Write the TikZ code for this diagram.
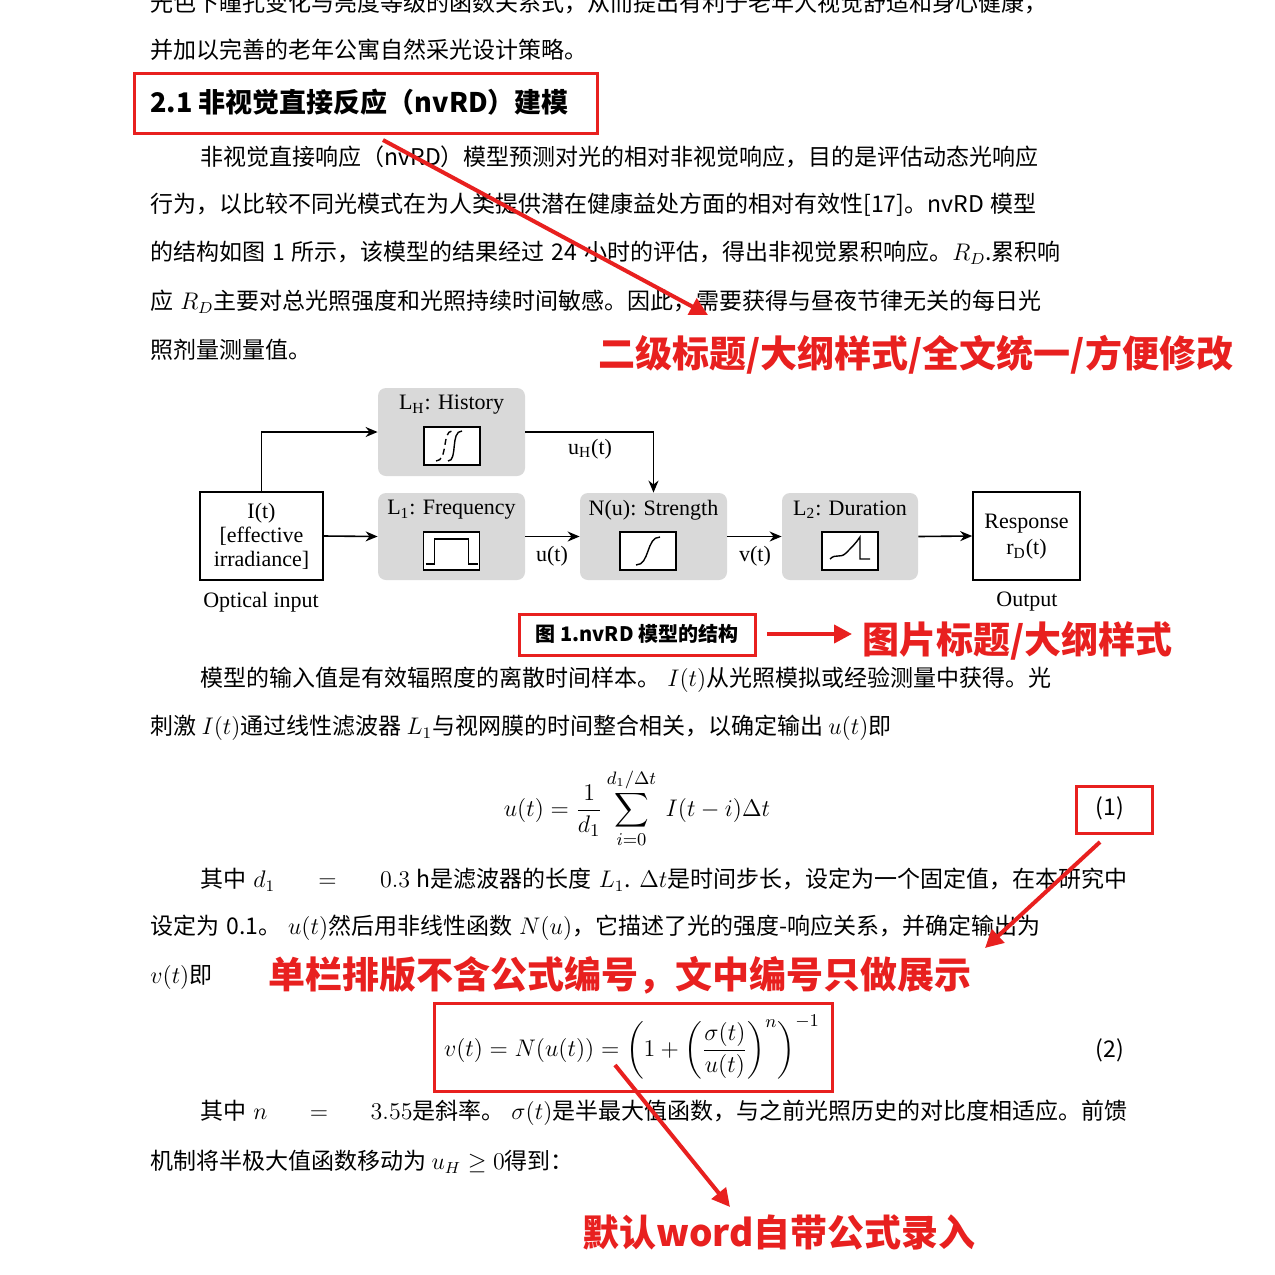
\documentclass[tikz,border=0pt]{standalone}
\usepackage{fontspec}
\usepackage{amsmath}
\setmainfont{Noto Sans CJK SC}
\newfontfamily\lser{Liberation Serif}
\usetikzlibrary{arrows.meta}
\XeTeXinterchartokenstate=1
\newcommand\cg{\hskip 0pt plus 2pt\relax}
\XeTeXinterchartoks 1 1 = {\cg}
\XeTeXinterchartoks 1 2 = {\cg}
\XeTeXinterchartoks 1 3 = {\cg}
\XeTeXinterchartoks 2 1 = {\cg}
\XeTeXinterchartoks 3 1 = {\cg}
\XeTeXinterchartoks 3 2 = {\cg}
\XeTeXinterchartoks 0 1 = {\cg}
\XeTeXinterchartoks 1 0 = {\cg}
\XeTeXinterchartoks 0 2 = {\cg}
\XeTeXinterchartoks 3 0 = {\cg}
\definecolor{annred}{HTML}{E8201F}
\definecolor{boxgray}{HTML}{D9D9D9}
\newcommand\fullln[1]{\hbox to 488pt{\spaceskip=0.3em\relax #1}}
\newcommand\indln[1]{\hbox to 463.5pt{\spaceskip=0.3em\relax #1}}
\begin{document}
\begin{tikzpicture}[x=0.5pt,y=-0.5pt,
  body/.style={anchor=west,inner sep=0pt,font=\fontsize{11.5}{13}\selectfont},
  ann/.style={anchor=west,inner sep=0pt,text=annred,font=\fontsize{18.5}{20}\selectfont\bfseries},
  redbox/.style={draw=annred,line width=1.5pt},
  redarr/.style={draw=annred,line width=2pt,-{Triangle[length=9pt,width=9pt]}},
  gbox/.style={fill=boxgray,rounded corners=4pt,inner sep=0pt},
  wbox/.style={draw,line width=0.8pt,fill=white,inner sep=0pt},
  icon/.style={draw,line width=0.8pt,fill=white,minimum width=28pt,minimum height=19pt,inner sep=0pt},
  lbl/.style={inner sep=0pt,font=\lser\fontsize{11}{13}\selectfont,align=center},
  arr/.style={line width=0.8pt,-{Stealth[length=6pt,width=5pt]}}]
\useasboundingbox (0,0) rectangle (1275,1275);
\clip (0,0) rectangle (1275,1275);
\fill[white] (0,0) rectangle (1275,1275);
% text top
\node[body] (t0) at (150,3) {\fullln{光色下瞳孔变化与亮度等级的函数关系式，从而提出有利于老年人视觉舒适和身心健康，}};
\node[body] (t1) at (150,50) {并加以完善的老年公寓自然采光设计策略。};
\node[body,font=\fontsize{13.5}{15}\selectfont\bfseries] (h) at (150,102) {2.1 非视觉直接反应（nvRD）建模};
\draw[redbox] (134,73) rectangle (597,133);
\node[body] (t2) at (200,157) {\indln{非视觉直接响应（nvRD）模型预测对光的相对非视觉响应，目的是评估动态光响应}};
\node[body] (t3) at (150,205) {\fullln{行为，以比较不同光模式在为人类提供潜在健康益处方面的相对有效性[17]。nvRD 模型}};
\node[body] (t4) at (150,253) {\fullln{的结构如图 1 所示，该模型的结果经过 24 小时的评估，得出非视觉累积响应。$R_D$.累积响}};
\node[body] (t5) at (150,302) {\fullln{应 $R_D$主要对总光照强度和光照持续时间敏感。因此，需要获得与昼夜节律无关的每日光}};
\node[body] (t6) at (150,350) {照剂量测量值。};
\coordinate (a1s) at (383,140); \coordinate (a1e) at (708,315);
\draw[redarr] (a1s) -- (a1e);
\node[ann] (ann1) at (598,355) {二级标题/大纲样式/全文统一/方便修改};
% diagram
\node[wbox,minimum width=61.5pt,minimum height=44pt] (in) at (261.5,536) {};
\node[lbl] at (261.5,536) {I(t)\\[-1pt][effective\\[-1pt]irradiance]};
\node[lbl] (oi) at (261,602) {Optical input};
\node[gbox,minimum width=73.5pt,minimum height=44pt] (lh) at (451.5,432) {};
\node[gbox,minimum width=73.5pt,minimum height=43.5pt] (l1) at (451.5,536.5) {};
\node[gbox,minimum width=73.5pt,minimum height=43.5pt] (nu) at (653.5,536.5) {};
\node[gbox,minimum width=68pt,minimum height=43.5pt] (l2) at (850,536.5) {};
\node[wbox,minimum width=53.5pt,minimum height=44pt] (rs) at (1026.5,536) {};
\node[lbl] at (1026.5,537) {Response\\r\textsubscript{D}(t)};
\node[lbl] (op) at (1027,602) {Output};
\node[lbl] at (451.5,405) {L\textsubscript{H}: History};
\node[lbl] at (451.5,510) {L\textsubscript{1}: Frequency};
\node[lbl] at (653.5,510) {N(u): Strength};
\node[lbl] at (850,510) {L\textsubscript{2}: Duration};
\node[icon] (ih) at (452,446) {};
\node[icon] (i1) at (451.5,551) {};
\node[icon] (in2) at (648,551) {};
\node[icon] (i2) at (850,551) {};
\begin{scope}[shift={(452,446)},line width=0.7pt]
\draw (-4,15) .. controls (6,15) and (-2,-15) .. (10,-15);
\draw[densely dashed] (-16,15) .. controls (-4,15) and (-10,-15) .. (0,-15);
\end{scope}
\begin{scope}[shift={(451.5,551)},line width=0.7pt]
\draw (-26,13) -- (-17,13) -- (-17,-12) -- (17,-12) -- (17,13) -- (26,13);
\end{scope}
\begin{scope}[shift={(648,551)},line width=0.7pt]
\draw (-12,14) .. controls (2,14) and (-2,-14) .. (12,-14);
\end{scope}
\begin{scope}[shift={(850,551)},line width=0.7pt]
\draw (-20,8) .. controls (-14,2) and (-10,8) .. (-4,2) .. controls (2,-4) and (6,-8) .. (10,-14) -- (10,8) -- (20,8);
\end{scope}
\draw[arr] (in.east) -- (l1.west);
\draw[arr] (in.north) |- (lh.west);
\draw[arr] (lh.east) -| (nu.north);
\draw[arr] (l1.east) -- (nu.west);
\draw[arr] (nu.east) -- (l2.west);
\draw[arr] (l2.east) -- (rs.west);
\node[lbl] (uh) at (590,449) {u\textsubscript{H}(t)};
\node[lbl] (ut) at (552,556) {u(t)};
\node[lbl] (vt) at (755,556) {v(t)};
% caption
\draw[redbox] (519,614) rectangle (755,655);
\node[inner sep=0pt,font=\fontsize{10}{12}\selectfont\bfseries] (cap) at (637,634) {图 1.nvRD 模型的结构};
\coordinate (a2s) at (767,634); \coordinate (a2e) at (852,634);
\draw[redarr] (a2s) -- (a2e);
\node[ann] (ann2) at (862,641) {图片标题/大纲样式};
% text middle
\node[body] (t7) at (200,680) {\indln{模型的输入值是有效辐照度的离散时间样本。 $I(t)$从光照模拟或经验测量中获得。光}};
\node[body] (t8) at (150,728) {刺激 $I(t)$通过线性滤波器 $L_1$与视网膜的时间整合相关，以确定输出 $u(t)$即};
\node[inner sep=0pt,font=\fontsize{12.5}{14}\selectfont] (eq1) at (637,808) {$\displaystyle u(t)=\frac{1}{d_1}\sum_{i=0}^{d_1/\Delta t}\ I(t-i)\Delta t$};
\draw[redbox] (1076,786) rectangle (1152,833);
\node[lbl,font=\fontsize{11.5}{13}\selectfont] (n1) at (1110,808) {(1)};
\node[body] (t9) at (200,880) {\indln{其中 $d_1=0.3$ h是滤波器的长度 $L_1$. $\Delta t$是时间步长，设定为一个固定值，在本研究中}};
\node[body] (t10) at (150,928) {\fullln{设定为 0.1。 $u(t)$然后用非线性函数 $N(u)$，它描述了光的强度-响应关系，并确定输出为}};
\node[body] (t11) at (150,977) {$v(t)$即};
\coordinate (a3s) at (1100,842); \coordinate (a3e) at (985,948);
\draw[redarr] (a3s) -- (a3e);
\node[ann] (ann3) at (268,975) {单栏排版不含公式编号，文中编号只做展示};
\node[inner sep=0pt,font=\fontsize{12.5}{14}\selectfont] (eq2) at (632,1047) {$\displaystyle v(t)=N(u(t))=\left(1+\left(\frac{\sigma(t)}{u(t)}\right)^{n}\right)^{-1}$};
\draw[redbox] (434,1003) rectangle (832,1091);
\node[lbl,font=\fontsize{11.5}{13}\selectfont] (n2) at (1110,1050) {(2)};
\node[body] (t12) at (200,1113) {\indln{其中 $n=3.55$是斜率。 $\sigma(t)$是半最大值函数，与之前光照历史的对比度相适应。前馈}};
\node[body] (t13) at (150,1162) {机制将半极大值函数移动为 $u_H\geq0$得到：};
\coordinate (a4s) at (615,1065); \coordinate (a4e) at (730,1207);
\draw[redarr] (a4s) -- (a4e);
\node[ann] (ann4) at (582,1232) {默认word自带公式录入};
\end{tikzpicture}
\end{document}
